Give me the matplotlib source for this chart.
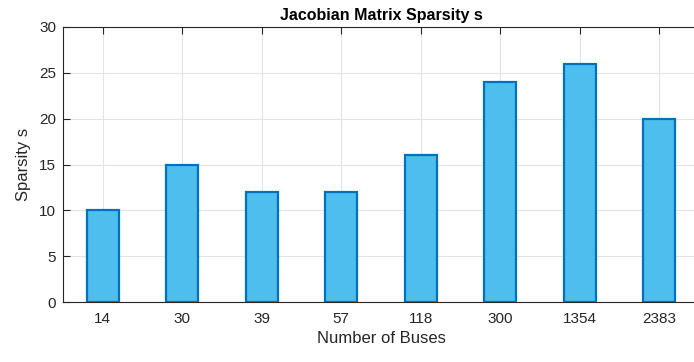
import matplotlib.pyplot as plt

buses = ['14', '30', '39', '57', '118', '300', '1354', '2383']
sparsity = [10, 15, 12, 12, 16, 24, 26, 20]

plt.rcParams['font.family'] = ['Liberation Sans', 'DejaVu Sans']

fig = plt.figure(figsize=(6.94, 3.62), dpi=100)
ax = fig.add_axes([63 / 694, 60 / 362, 636 / 694, 275 / 362])

x = list(range(1, len(buses) + 1))
ax.bar(x, sparsity, width=0.4, color='#4DBEEE', edgecolor='#0072BD',
       linewidth=1.6, zorder=3)

ax.set_xlim(0.5, 8.5)
ax.set_ylim(0, 30)
ax.set_xticks(x)
ax.set_xticklabels(buses)
ax.set_yticks(range(0, 31, 5))

ax.grid(True, color='#E3E3E3', linewidth=0.8, zorder=0)
ax.set_axisbelow(True)

for side in ['left', 'bottom', 'top']:
    ax.spines[side].set_color('#262626')
    ax.spines[side].set_linewidth(0.8)
ax.spines['right'].set_visible(False)

ax.tick_params(axis='both', direction='in', length=4.8, width=0.8,
               colors='#262626', labelsize=11, top=True, right=False)
ax.tick_params(axis='x', pad=7)
ax.tick_params(axis='y', pad=5)

ax.set_title('Jacobian Matrix Sparsity s', fontsize=11.5, fontweight='bold', pad=5)
ax.set_xlabel('Number of Buses', fontsize=12, color='#262626', labelpad=4)
ax.set_ylabel('Sparsity s', fontsize=12, color='#262626', labelpad=6)

fig.savefig('out.png', dpi=100)
